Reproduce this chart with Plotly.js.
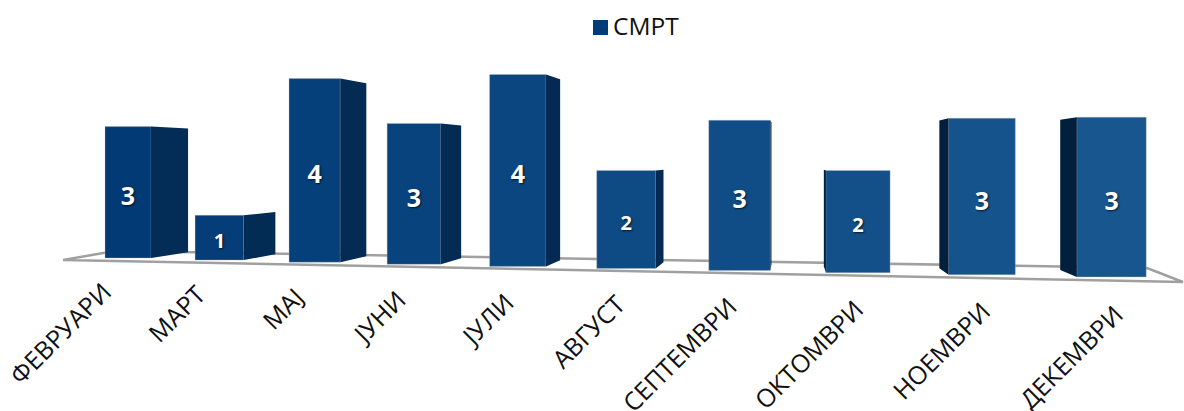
<!DOCTYPE html>
<html>
<head>
<meta charset="utf-8">
<script src="https://cdn.plot.ly/plotly-3.0.1.min.js"></script>
<style>html,body{margin:0;padding:0;background:#fff}#c{width:1184px;height:411px}</style>
</head>
<body>
<div id="c"></div>
<script>
const seriesName = "СМРТ";
const categories = ["ФЕВРУАРИ","МАРТ","МАЈ","ЈУНИ","ЈУЛИ","АВГУСТ","СЕПТЕМВРИ","ОКТОМВРИ","НОЕМВРИ","ДЕКЕМВРИ"];
const values = [3,1,4,3,4,2,3,2,3,3];

// Perspective of the floor: category index -> screen position
const H = 411;
const centre = i => 128 + 89.53*i + 1.806*i*i + 0.0432*i*i*i;
const width  = i => 46 + 2.6*i;
const floorY = i => 258 + 2.1*i;
const unit   = i => 43.8 + 1.05*i;
const vanish = {x: 790, y: 160, k: 0.058};

const mix = (a,b,t) => 'rgb(' + a.map((v,j)=>Math.round(v+(b[j]-v)*t)).join(',') + ')';
const idx = categories.map((_,i)=>i);
const n = categories.length - 1;

const sides = idx.map(i => {
  const cx = centre(i), w = width(i);
  const rightSide = cx <= vanish.x;
  const edge = rightSide ? cx + w/2 : cx - w/2;
  const bottom = floorY(i), top = bottom - values[i]*unit(i);
  const bx = edge + vanish.k*(vanish.x-edge);
  const by = y => y + vanish.k*(vanish.y-y);
  return {
    type:'scatter', mode:'lines', fill:'toself', hoverinfo:'skip', showlegend:false,
    x:[edge,bx,bx,edge,edge],
    y:[top,by(top),by(bottom),bottom,top].map(y=>H-y),
    line:{width:0,color:'rgba(0,0,0,0)'},
    fillcolor: rightSide ? mix([3,44,86],[2,40,78],i/n) : '#021f3d'
  };
});

const fronts = {
  type:'bar', hoverinfo:'skip', showlegend:false,
  x: idx.map(centre),
  width: idx.map(width),
  base: idx.map(i=>H-floorY(i)),
  y: idx.map(i=>values[i]*unit(i)),
  marker:{color: idx.map(i=>mix([1,58,116],[24,86,143],i/n)), line:{color:'rgba(190,190,190,0.35)',width:1}}
};

const labelSize = v => v>=3 ? 25 : 20;
const labels = {
  type:'scatter', mode:'text', hoverinfo:'skip', showlegend:false,
  x: idx.map(centre),
  y: idx.map(i=>H-(floorY(i)-values[i]*unit(i)/2) - labelSize(values[i])*0.27),
  text: values.map(String),
  textposition:'middle center',
  textfont:{family:'"Open Sans", sans-serif', weight:700, color:'#ffffff',
    size: values.map(labelSize), shadow:'1px 1px 2px rgba(0,0,0,0.7)'}
};

const legendKey = {
  type:'scatter', mode:'markers', hoverinfo:'skip', showlegend:false,
  x:[600.5], y:[H-27.5],
  marker:{symbol:'square', size:15, color:'#003c77'}
};
const legendText = {
  type:'scatter', mode:'text', hoverinfo:'skip', showlegend:false,
  x:[613], y:[H-28.5], text:[seriesName], textposition:'middle right',
  textfont:{family:'"Open Sans", sans-serif', size:24.5, color:'#111111'}
};

const tickNudge = i => i === 6 ? -5 : 0;
const ticks = categories.map((c,i)=>({
  text:c, xref:'x', yref:'y', x:centre(i)-7.5+3.2*i+tickNudge(i), y:H-(272.5+2.4*i),
  xanchor:'right', yanchor:'top', textangle:-45, showarrow:false,
  font:{family:'"Open Sans", sans-serif', size:25, color:'#111111'}
}));

const floor = 'M63,' + (H-260) + ' L1183,' + (H-282) + ' L1147,' + (H-268) + ' L115,' + (H-251) + ' Z';

Plotly.newPlot('c', [...sides, fronts, labels, legendKey, legendText], {
  width:1184, height:411,
  margin:{l:0,r:0,t:0,b:0},
  paper_bgcolor:'#fff', plot_bgcolor:'#fff',
  xaxis:{range:[0,1184], visible:false, fixedrange:true},
  yaxis:{range:[0,411], visible:false, fixedrange:true},
  bargap:0,
  showlegend:false,
  shapes:[{type:'path', path:floor, layer:'below', fillcolor:'#ffffff',
    line:{color:'#a0a0a0', width:2.5}}],
  annotations:ticks
}, {staticPlot:true, displayModeBar:false});
</script>
</body>
</html>
